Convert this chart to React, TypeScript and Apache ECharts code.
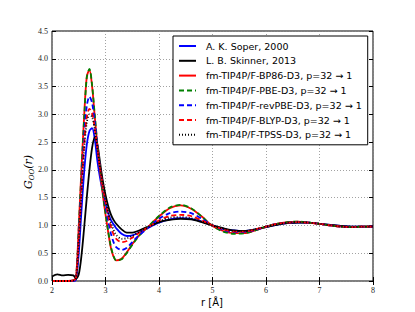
import React, { useEffect, useRef } from "react";
import * as echarts from "echarts";

const R = [2.0, 2.1, 2.2, 2.3, 2.4, 2.45, 2.5, 2.55, 2.6, 2.65, 2.7, 2.75, 2.8, 2.85, 2.9, 2.95, 3.0, 3.05, 3.1, 3.15, 3.2, 3.3, 3.4, 3.5, 3.6, 3.7, 3.8, 4.0, 4.2, 4.4, 4.6, 4.8, 5.0, 5.2, 5.4, 5.6, 5.8, 6.0, 6.2, 6.4, 6.6, 6.8, 7.0, 7.2, 7.4, 7.6, 7.8, 8.0];

const soper = [0, 0, 0, 0, 0, 0.03, 0.5, 1.25, 1.95, 2.45, 2.7, 2.75, 2.55, 2.15, 1.85, 1.6, 1.4, 1.22, 1.1, 1.02, 0.95, 0.85, 0.81, 0.82, 0.86, 0.91, 0.96, 1.05, 1.11, 1.13, 1.12, 1.07, 1.0, 0.94, 0.91, 0.9, 0.93, 0.97, 1.01, 1.04, 1.05, 1.05, 1.03, 1.01, 0.99, 0.98, 0.98, 0.98];
const skinner = [0.08, 0.12, 0.1, 0.11, 0.1, 0.04, 0.12, 0.45, 0.95, 1.5, 2.0, 2.4, 2.59, 2.45, 2.12, 1.8, 1.55, 1.35, 1.2, 1.1, 1.03, 0.93, 0.87, 0.87, 0.9, 0.94, 0.98, 1.06, 1.1, 1.12, 1.11, 1.06, 1.0, 0.95, 0.91, 0.9, 0.93, 0.97, 1.01, 1.04, 1.05, 1.05, 1.03, 1.01, 0.99, 0.98, 0.98, 0.98];
const bp86 = [0, 0, 0, 0, 0.01, 0.08, 1.0, 2.0, 2.95, 3.68, 3.8, 3.5, 2.95, 2.42, 1.98, 1.55, 1.2, 0.88, 0.6, 0.44, 0.37, 0.4, 0.52, 0.66, 0.79, 0.89, 0.98, 1.16, 1.31, 1.36, 1.3, 1.16, 0.99, 0.9, 0.86, 0.86, 0.91, 0.98, 1.03, 1.06, 1.07, 1.05, 1.03, 1.0, 0.98, 0.97, 0.98, 0.98];
const pbe = [0, 0, 0, 0, 0.01, 0.07, 0.95, 1.95, 2.9, 3.66, 3.82, 3.52, 2.98, 2.45, 2.0, 1.58, 1.22, 0.9, 0.62, 0.45, 0.37, 0.39, 0.51, 0.65, 0.78, 0.89, 0.98, 1.17, 1.32, 1.37, 1.31, 1.16, 0.99, 0.89, 0.85, 0.86, 0.91, 0.98, 1.03, 1.06, 1.07, 1.05, 1.03, 1.0, 0.98, 0.97, 0.98, 0.98];
const revpbe = [0, 0, 0, 0, 0.01, 0.06, 0.8, 1.75, 2.6, 3.15, 3.32, 3.2, 2.85, 2.42, 2.02, 1.67, 1.35, 1.08, 0.86, 0.7, 0.61, 0.56, 0.6, 0.7, 0.8, 0.88, 0.96, 1.12, 1.22, 1.25, 1.22, 1.12, 1.0, 0.92, 0.88, 0.88, 0.92, 0.98, 1.03, 1.05, 1.06, 1.05, 1.03, 1.0, 0.98, 0.97, 0.98, 0.98];
const blyp = [0, 0, 0, 0, 0.01, 0.06, 0.75, 1.65, 2.45, 2.95, 3.1, 3.02, 2.75, 2.38, 2.02, 1.7, 1.42, 1.18, 0.98, 0.84, 0.76, 0.7, 0.72, 0.78, 0.85, 0.91, 0.97, 1.09, 1.17, 1.19, 1.17, 1.09, 1.0, 0.93, 0.89, 0.89, 0.93, 0.98, 1.03, 1.05, 1.06, 1.05, 1.03, 1.0, 0.98, 0.97, 0.98, 0.98];
const tpss = [0, 0, 0, 0, 0.01, 0.05, 0.7, 1.55, 2.35, 2.85, 3.0, 2.95, 2.72, 2.38, 2.04, 1.74, 1.47, 1.24, 1.05, 0.92, 0.83, 0.76, 0.77, 0.81, 0.87, 0.92, 0.97, 1.07, 1.14, 1.15, 1.13, 1.07, 1.0, 0.94, 0.9, 0.9, 0.93, 0.98, 1.02, 1.05, 1.06, 1.05, 1.03, 1.0, 0.98, 0.97, 0.98, 0.98];

const seriesNames = [
  "A. K. Soper, 2000",
  "L. B. Skinner, 2013",
  "fm-TIP4P/F-BP86-D3, p=32 \u2192 1",
  "fm-TIP4P/F-PBE-D3, p=32 \u2192 1",
  "fm-TIP4P/F-revPBE-D3, p=32 \u2192 1",
  "fm-TIP4P/F-BLYP-D3, p=32 \u2192 1",
  "fm-TIP4P/F-TPSS-D3, p=32 \u2192 1",
];
const seriesValues = [soper, skinner, bp86, pbe, revpbe, blyp, tpss];
const seriesColors = ["#0000ff", "#000000", "#ff0000", "#008000", "#0000ff", "#ff0000", "#000000"];
const seriesDash: any[] = ["solid", "solid", "solid", [5, 3], [5, 3], [5, 3], [1, 2]];

const xTicks = [2, 3, 4, 5, 6, 7, 8];

export default function App() {
  const ref = useRef<HTMLDivElement>(null);
  useEffect(() => {
    if (!ref.current) return;
    const chart = echarts.init(ref.current, null, { renderer: "svg" });
    const tickFont = { fontFamily: "Liberation Serif", fontSize: 8, color: "#222" };
    const option: any = {
      animation: false,
      backgroundColor: "#ffffff",
      grid: { left: 52, right: 42, top: 31, bottom: 31, show: true, borderColor: "#000", borderWidth: 1, backgroundColor: "transparent" },
      legend: {
        orient: "vertical",
        left: 173,
        top: 36,
        padding: [5, 6, 5, 5],
        itemWidth: 17,
        itemHeight: 10,
        itemGap: 4.8,
        borderColor: "#000",
        borderWidth: 1,
        borderRadius: 0,
        backgroundColor: "#fff",
        itemStyle: { color: "rgba(0,0,0,0)", borderWidth: 0, opacity: 0 },
        textStyle: { fontFamily: "DejaVu Sans", fontSize: 9.5, color: "#000", padding: [0, 0, 0, 5] },
        data: seriesNames,
      },
      xAxis: [
        {
          type: "value",
          min: 2,
          max: 8,
          interval: 1,
          axisLine: { show: false },
          axisTick: { show: true, inside: true, length: 4, lineStyle: { color: "#000" } },
          axisLabel: { ...tickFont, margin: 5, formatter: (v: number) => (xTicks.includes(v) ? String(v) : "") },
          splitLine: { show: true, lineStyle: { color: "#8a8a8a", type: [1, 2], width: 0.8 } },
        },
        {
          type: "value",
          position: "top",
          min: 2,
          max: 8,
          interval: 1,
          axisLine: { show: false },
          axisTick: { show: true, inside: true, length: 4, lineStyle: { color: "#000" } },
          axisLabel: { show: false },
          splitLine: { show: false },
        },
      ],
      yAxis: [
        {
          type: "value",
          min: 0,
          max: 4.5,
          interval: 0.5,
          axisLine: { show: false },
          axisTick: { show: true, inside: true, length: 4, lineStyle: { color: "#000" } },
          axisLabel: { ...tickFont, margin: 4, formatter: (v: number) => v.toFixed(1) },
          splitLine: { show: true, lineStyle: { color: "#8a8a8a", type: [1, 2], width: 0.8 } },
        },
        {
          type: "value",
          position: "right",
          min: 0,
          max: 4.5,
          interval: 0.5,
          axisLine: { show: false },
          axisTick: { show: true, inside: true, length: 4, lineStyle: { color: "#000" } },
          axisLabel: { show: false },
          splitLine: { show: false },
        },
      ],
      graphic: [
        {
          type: "text",
          x: 212,
          y: 302,
          style: { text: "r [\u00c5]", fontFamily: "DejaVu Sans", fontSize: 10, fill: "#000", textAlign: "center", textVerticalAlign: "middle" },
        },
        {
          type: "text",
          x: 28,
          y: 172,
          rotation: Math.PI / 2,
          style: {
            text: "{a|G}{b|OO}{a|(r)}",
            textAlign: "center",
            textVerticalAlign: "middle",
            fill: "#000",
            rich: {
              a: { fontFamily: "DejaVu Serif", fontStyle: "italic", fontSize: 11, lineHeight: 14, fill: "#000" },
              b: { fontFamily: "DejaVu Serif", fontStyle: "italic", fontSize: 7, lineHeight: 14, verticalAlign: "bottom", padding: [4, 0, 0, 0], fill: "#000" },
            },
          },
        },
      ],
      series: seriesNames.map((name, i) => ({
        name,
        type: "line",
        xAxisIndex: 0,
        yAxisIndex: 0,
        data: R.map((r, j) => [r, seriesValues[i][j]]),
        showSymbol: false,
        symbol: "none",
        smooth: 0.3,
        lineStyle: { color: seriesColors[i], width: 1.8, type: seriesDash[i] },
        itemStyle: { color: seriesColors[i] },
        z: 2 + i * 0.1,
      })),
    };
    chart.setOption(option);
    return () => chart.dispose();
  }, []);
  return <div ref={ref} style={{ position: "fixed", left: 0, top: 0, width: 415, height: 312 }} />;
}
